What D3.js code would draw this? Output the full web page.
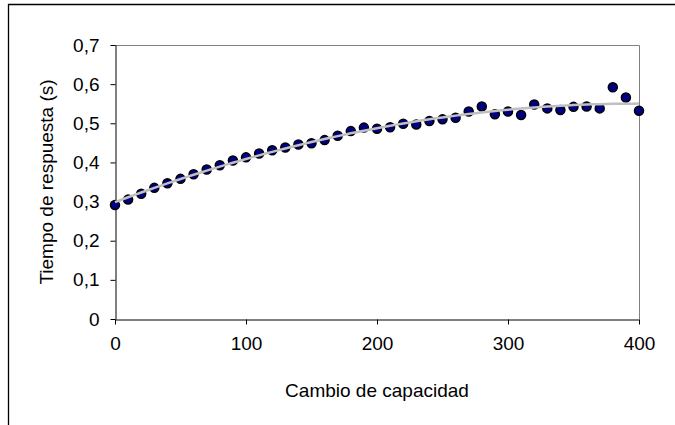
<!DOCTYPE html>
<html>
<head>
	<meta charset="utf-8">
	<title>Tiempo de respuesta</title>
	<script src="https://d3js.org/d3.v7.min.js"></script>
	<style>
		body { margin: 0; background: #fff; }
		text { font-family: "Liberation Sans", Arial, sans-serif; fill: #000; }
	</style>
</head>
<body>
	<script type="text/javascript">
		var width = 675
		var height = 425

		// cambio de capacidad (eje x) y tiempo de respuesta (s)
		var capacidad = [0, 10, 20, 30, 40, 50, 60, 70, 80, 90, 100, 110, 120, 130, 140, 150, 160, 170, 180, 190, 200,
			210, 220, 230, 240, 250, 260, 270, 280, 290, 300, 310, 320, 330, 340, 350, 360, 370, 380, 390, 400]
		var tiempo = [0.291, 0.305, 0.320, 0.335, 0.347, 0.358, 0.370, 0.382, 0.393, 0.405, 0.413, 0.423, 0.431, 0.438, 0.446, 0.449, 0.457, 0.468, 0.480, 0.489, 0.486,
			0.490, 0.499, 0.497, 0.506, 0.510, 0.514, 0.530, 0.543, 0.523, 0.530, 0.521, 0.548, 0.538, 0.534, 0.542, 0.543, 0.538, 0.592, 0.566, 0.532]
		var xTicks = [0, 100, 200, 300, 400]
		var yTicks = [0, 0.1, 0.2, 0.3, 0.4, 0.5, 0.6, 0.7]

		var data = capacidad.map((c, i) => ({x: c, y: tiempo[i]}))

		var mLeft = 115, mRight = 639, mTop = 45, mBottom = 319

		var x = d3.scaleLinear().domain([0, 400]).range([mLeft, mRight])
		var y = d3.scaleLinear().domain([0, 0.7]).range([mBottom, mTop])

		var svg = d3.select("body").append("svg")
			.attr("width", width)
			.attr("height", height)

		// marco exterior
		svg.append("path")
			.attr("d", "M8.5," + height + "V4.5H" + width)
			.attr("fill", "none")
			.attr("stroke", "#000")
			.attr("stroke-width", 1.3)

		// borde del area de trazado
		svg.append("path")
			.attr("d", "M" + mLeft + "," + (mTop + 0.5) + "H" + (mRight + 0.5) + "V" + mBottom)
			.attr("fill", "none")
			.attr("stroke", "#808080")
			.attr("stroke-width", 1)

		var fmt = d => d === 0 ? "0" : d3.format(".1f")(d).replace(".", ",")

		svg.append("g")
			.attr("transform", "translate(" + (mLeft + 0.5) + ",0)")
			.call(d3.axisLeft(y).tickValues(yTicks).tickSize(5).tickPadding(11).tickFormat(fmt).tickSizeOuter(0))
		svg.append("g")
			.attr("transform", "translate(0," + (mBottom + 0.5) + ")")
			.call(d3.axisBottom(x).tickValues(xTicks).tickSize(5).tickPadding(12).tickFormat(d3.format("d")).tickSizeOuter(0))

		svg.selectAll(".domain").attr("stroke", "#000")
		svg.selectAll(".tick line").attr("stroke", "#000")
		svg.selectAll(".tick text")
			.style("font-family", "'Liberation Sans', Arial, sans-serif")
			.style("font-size", "19px")
			.attr("fill", "#000")

		// linea de tendencia: polinomio de grado 2 por minimos cuadrados
		function polyFit(pts) {
			var s = [0, 0, 0, 0, 0], t = [0, 0, 0]
			pts.forEach(p => {
				var xp = 1
				for (var k = 0; k < 5; k++) { s[k] += xp; if (k < 3) t[k] += xp * p.y; xp *= p.x }
			})
			var m = [[s[0], s[1], s[2], t[0]], [s[1], s[2], s[3], t[1]], [s[2], s[3], s[4], t[2]]]
			for (var i = 0; i < 3; i++) {
				for (var j = i + 1; j < 3; j++) {
					var f = m[j][i] / m[i][i]
					for (var k = i; k < 4; k++) m[j][k] -= f * m[i][k]
				}
			}
			var c = [0, 0, 0]
			for (var i = 2; i >= 0; i--) {
				var v = m[i][3]
				for (var k = i + 1; k < 3; k++) v -= m[i][k] * c[k]
				c[i] = v / m[i][i]
			}
			return c
		}
		var coef = polyFit(data)
		var trend = d3.range(0, 401, 5).map(v => ({x: v, y: coef[0] + coef[1] * v + coef[2] * v * v}))

		svg.selectAll("circle")
			.data(data)
			.enter()
			.append("circle")
			.attr("cx", d => x(d.x))
			.attr("cy", d => y(d.y))
			.attr("r", 4.5)
			.attr("fill", "#000080")
			.attr("stroke", "#000")
			.attr("stroke-width", 1.5)

		// la tendencia va encima de los puntos
		svg.append("path")
			.datum(trend)
			.attr("fill", "none")
			.attr("stroke", "#c0c0c0")
			.attr("stroke-width", 2.5)
			.attr("d", d3.line().x(d => x(d.x)).y(d => y(d.y)))

		svg.append("text")
			.attr("x", (mLeft + mRight) / 2)
			.attr("y", 397)
			.attr("text-anchor", "middle")
			.style("font-size", "19px")
			.text("Cambio de capacidad")

		svg.append("text")
			.attr("transform", "translate(53," + ((mTop + mBottom) / 2) + ") rotate(-90)")
			.attr("text-anchor", "middle")
			.style("font-size", "19px")
			.text("Tiempo de respuesta (s)")
	</script>
</body>
</html>
